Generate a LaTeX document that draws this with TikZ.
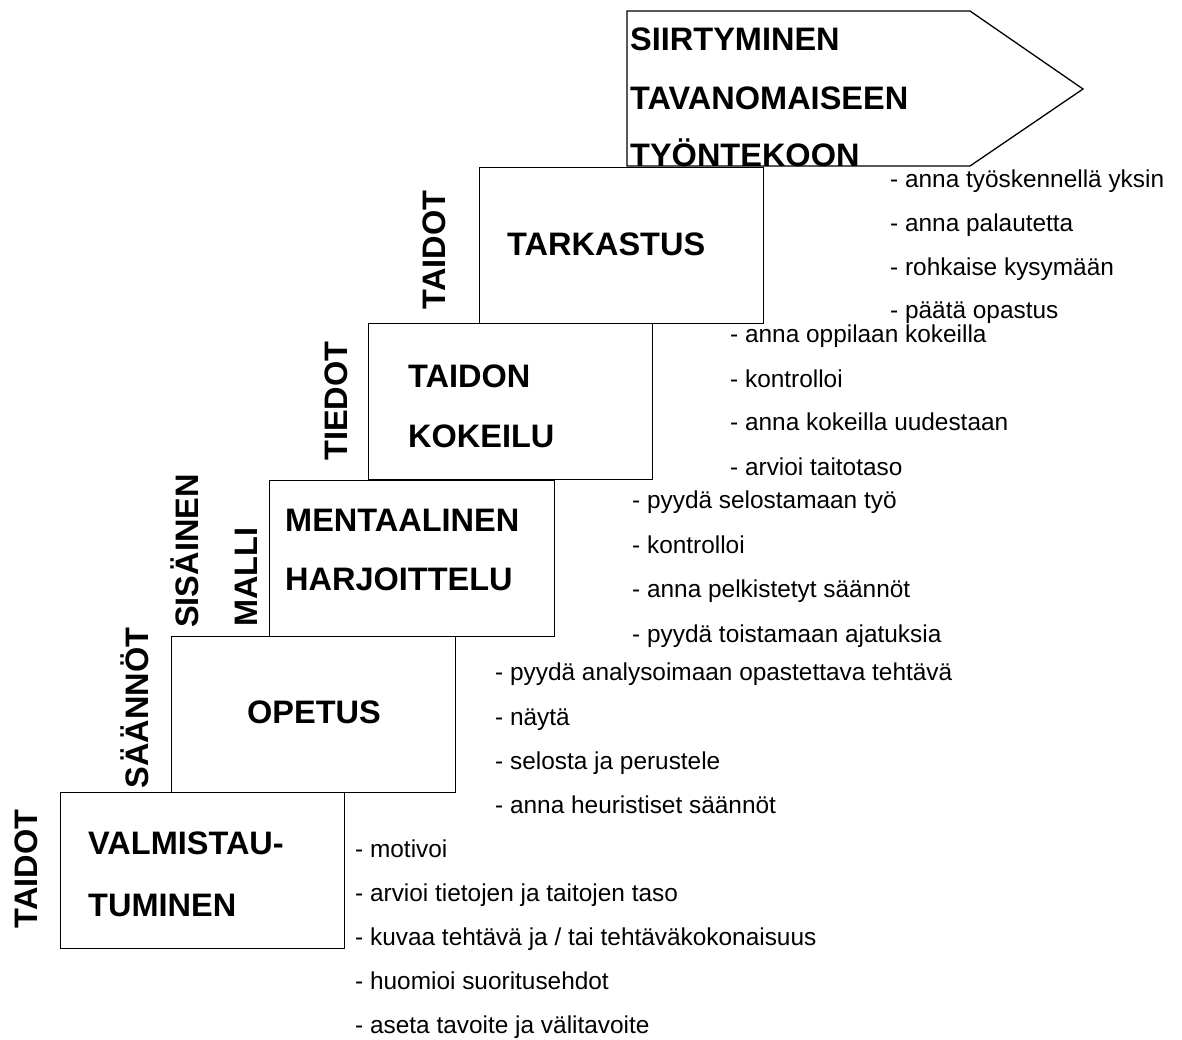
\documentclass[tikz,border=0pt]{standalone}
\usepackage{fontspec}
\setmainfont{Liberation Sans}
\begin{document}
\begin{tikzpicture}[x=1pt,y=1pt,
 stepbox/.style={draw=black, line width=1.3pt, minimum width=284pt, minimum height=156pt, inner sep=0pt, anchor=north west},
 title/.style={font=\fontsize{32.5}{39}\selectfont\bfseries, anchor=base west, inner sep=0pt},
 side/.style={font=\fontsize{32.5}{39}\selectfont\bfseries, anchor=base, rotate=90, inner sep=0pt},
 item/.style={font=\fontsize{24.4}{29}\selectfont, anchor=base west, inner sep=0pt}]
\useasboundingbox (0,0) rectangle (1182,-1039);

% arrow at the top
\coordinate (a1) at (627,-11);
\coordinate (a2) at (970,-11);
\coordinate (a3) at (1083,-89);
\coordinate (a4) at (970,-166);
\coordinate (a5) at (627,-166);
\draw[line width=1.3pt, line join=miter] (a1) -- (a2) -- (a3) -- (a4) -- (a5) -- cycle;

% step boxes
\node[stepbox] (b1) at (60,-792) {};
\node[stepbox] (b2) at (171,-636) {};
\node[stepbox, minimum width=285pt] (b3) at (269,-480) {};
\node[stepbox] (b4) at (368,-323) {};
\node[stepbox] (b5) at (479,-167) {};

% titles
\node[title] (t1a) at (88,-854) {VALMISTAU-};
\node[title] (t1b) at (88,-916) {TUMINEN};
\node[title] (t2) at (247,-723) {OPETUS};
\node[title] (t3a) at (285,-531) {MENTAALINEN};
\node[title] (t3b) at (285,-590) {HARJOITTELU};
\node[title] (t4a) at (408,-387) {TAIDON};
\node[title] (t4b) at (408,-447) {KOKEILU};
\node[title] (t5) at (507,-255) {TARKASTUS};
\node[title] (t6a) at (630,-50) {SIIRTYMINEN};
\node[title] (t6b) at (630,-109) {TAVANOMAISEEN};
\node[title] (t6c) at (630,-166) {TYÖNTEKOON};

% side labels
\node[side] (s1) at (37,-869) {TAIDOT};
\node[side] (s2) at (148,-708) {SÄÄNNÖT};
\node[side] (s3) at (198,-551) {SISÄINEN};
\node[side] (s4) at (257,-577) {MALLI};
\node[side] (s5) at (347,-401) {TIEDOT};
\node[side] (s6) at (445,-250) {TAIDOT};

% lists
\node[item] (l6a) at (890,-187) {- anna työskennellä yksin};
\node[item] (l6b) at (890,-231) {- anna palautetta};
\node[item] (l6c) at (890,-275) {- rohkaise kysymään};
\node[item] (l6d) at (890,-318) {- päätä opastus};

\node[item] (l5a) at (730,-342) {- anna oppilaan kokeilla};
\node[item] (l5b) at (730,-387) {- kontrolloi};
\node[item] (l5c) at (730,-430) {- anna kokeilla uudestaan};
\node[item] (l5d) at (730,-475) {- arvioi taitotaso};

\node[item] (l4a) at (632,-508) {- pyydä selostamaan työ};
\node[item] (l4b) at (632,-553) {- kontrolloi};
\node[item] (l4c) at (632,-597) {- anna pelkistetyt säännöt};
\node[item] (l4d) at (632,-642) {- pyydä toistamaan ajatuksia};

\node[item] (l3a) at (495,-680) {- pyydä analysoimaan opastettava tehtävä};
\node[item] (l3b) at (495,-725) {- näytä};
\node[item] (l3c) at (495,-769) {- selosta ja perustele};
\node[item] (l3d) at (495,-813) {- anna heuristiset säännöt};

\node[item] (l1a) at (355,-857) {- motivoi};
\node[item] (l1b) at (355,-901) {- arvioi tietojen ja taitojen taso};
\node[item] (l1c) at (355,-945) {- kuvaa tehtävä ja / tai tehtäväkokonaisuus};
\node[item] (l1d) at (355,-989) {- huomioi suoritusehdot};
\node[item] (l1e) at (355,-1033) {- aseta tavoite ja välitavoite};
\end{tikzpicture}
\end{document}
